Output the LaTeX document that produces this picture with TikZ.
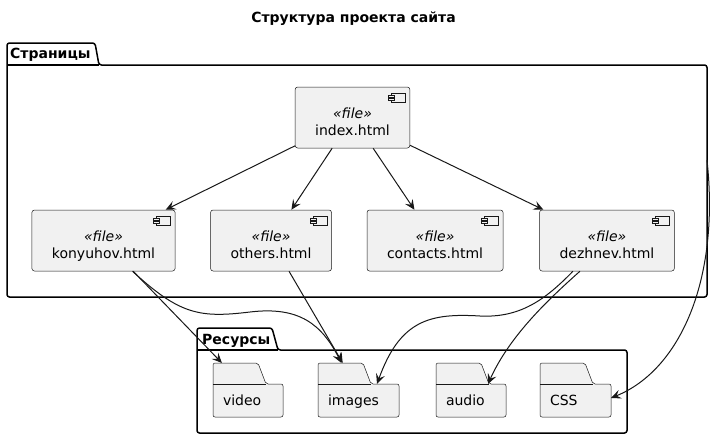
\documentclass[tikz,border=0pt]{standalone}
\usepackage{fontspec}
\setmainfont{DejaVu Sans}
\usetikzlibrary{positioning,arrows.meta,backgrounds}
\definecolor{boxfill}{HTML}{F1F1F1}
\definecolor{boxline}{HTML}{181818}

\begin{document}
\begin{tikzpicture}[%
            x=1pt, y=-1pt,
            file/.style={rectangle, draw=boxline, line width=0.5pt, fill=boxfill, rounded corners=2.5pt,
                minimum height=61pt, inner xsep=20pt, inner ysep=0pt, align=center,
                text height=38pt, text depth=2pt, font=\fontsize{14}{17}\selectfont},
            folder/.style={rectangle, minimum height=54pt, inner xsep=10pt, inner ysep=0pt, outer sep=0pt,
                align=left, text height=36pt, text depth=5pt, font=\fontsize{14}{17}\selectfont},
            folderline/.style={draw=boxline, line width=0.5pt, fill=boxfill, rounded corners=2pt},
            icon/.style={draw=boxline, line width=0.5pt, fill=boxfill},
            pkg/.style={rectangle, inner sep=0pt, outer sep=0pt},
            pkgline/.style={draw=black, line width=1.5pt, rounded corners=2.5pt},
            pkgname/.style={anchor=base west, inner sep=0pt, font=\bfseries\fontsize{14}{17}\selectfont},
            arrow/.style={-{Stealth[length=10pt,width=9pt,inset=4pt]}, draw=boxline, line width=1pt}
        ]
        \useasboundingbox (0,0) rectangle (718,439);

        % Title
        \node[pkgname, anchor=base] (title) at (353.5,23) {Структура проекта сайта};

        % Packages
        \node[pkg, minimum width=700pt, minimum height=232pt] (pages) at (357,181) {};
        \node[pkg, minimum width=430pt, minimum height=83pt] (res) at (412,391.5) {};
        \draw[pkgline] (pages.north west) -- ++(0,-22) -- ++(88,0) -- ++(4,22) -- (pages.north east)
            -- (pages.south east) -- (pages.south west) -- cycle;
        \draw[pkgline] (pages.north west) -- ([xshift=92pt]pages.north west);
        \draw[pkgline] (res.north west) -- ++(0,-22) -- ++(75,0) -- ++(6,22) -- (res.north east)
            -- (res.south east) -- (res.south west) -- cycle;
        \draw[pkgline] (res.north west) -- ([xshift=81pt]res.north west);
        \node[pkgname] (pageslabel) at ([xshift=3pt,yshift=7pt]pages.north west) {Страницы};
        \node[pkgname] (reslabel) at ([xshift=5pt,yshift=6pt]res.north west) {Ресурсы};

        % Page files
        \node[file] (index) at (352.5,117.5) {\textit{«file»}\\index.html};
        \node[file] (konyuhov) at (103.5,240.5) {\textit{«file»}\\konyuhov.html};
        \node[file, right=35pt of konyuhov] (others) {\textit{«file»}\\others.html};
        \node[file, right=35pt of others] (contacts) {\textit{«file»}\\contacts.html};
        \node[file, right=36pt of contacts] (dezhnev) {\textit{«file»}\\dezhnev.html};

        % Component icons
        \foreach \n in {index,konyuhov,others,contacts,dezhnev} {
            \draw[icon] ([xshift=-19pt,yshift=-6pt]\n.north east) rectangle ([xshift=-5pt,yshift=-15pt]\n.north east);
            \draw[icon] ([xshift=-22pt,yshift=-8pt]\n.north east) rectangle ([xshift=-16pt,yshift=-10pt]\n.north east);
            \draw[icon] ([xshift=-22pt,yshift=-11pt]\n.north east) rectangle ([xshift=-16pt,yshift=-13pt]\n.north east);
        }

        % Resource folders
        \node[folder, text width=50pt] (video) at (248,390) {video};
        \node[folder, text width=61pt, right=35pt of video] (images) {images};
        \node[folder, text width=50pt, right=37pt of images] (audio) {audio};
        \node[folder, text width=51pt, right=34pt of audio] (css) {CSS};

        \begin{scope}[on background layer]
            \foreach \f in {video,images,audio,css} {
                \draw[folderline] ([yshift=-21pt]\f.north west) -- (\f.north west) -- ([xshift=45pt]\f.north west)
                    -- ([xshift=53pt,yshift=-21pt]\f.north west) -- ([yshift=-21pt]\f.north east)
                    -- (\f.south east) -- (\f.south west) -- cycle;
                \draw[folderline] ([yshift=-21pt]\f.north west) -- ([xshift=53pt,yshift=-21pt]\f.north west);
            }
        \end{scope}

        % Links between pages
        \draw[arrow] (index) -- (konyuhov);
        \draw[arrow] (index) -- (others);
        \draw[arrow] (index) -- (contacts);
        \draw[arrow] (index) -- (dezhnev);

        % Links to resources
        \draw[arrow] (konyuhov) -- (video);
        \draw[arrow] ([xshift=29pt]konyuhov.south) .. controls (180,315) and (200,318) .. (250,312)
            .. controls (300,306) and (322,325) .. ([xshift=-17pt]images.north);
        \draw[arrow] (others) -- (images);
        \draw[arrow] ([xshift=-34pt]dezhnev.south) .. controls (545,300) and (520,318) .. (480,316)
            .. controls (430,313) and (400,320) .. ([xshift=-22pt,yshift=-21pt]images.north east);
        \draw[arrow] ([xshift=-27pt]dezhnev.south) .. controls (550,298) and (510,335)
            .. ([xshift=-18pt,yshift=-21pt]audio.north east);
        \draw[arrow] ([yshift=21pt]pages.east) .. controls (720,280) and (680,370) .. ([yshift=-8pt]css.east);

        \end{tikzpicture}
\end{document}
